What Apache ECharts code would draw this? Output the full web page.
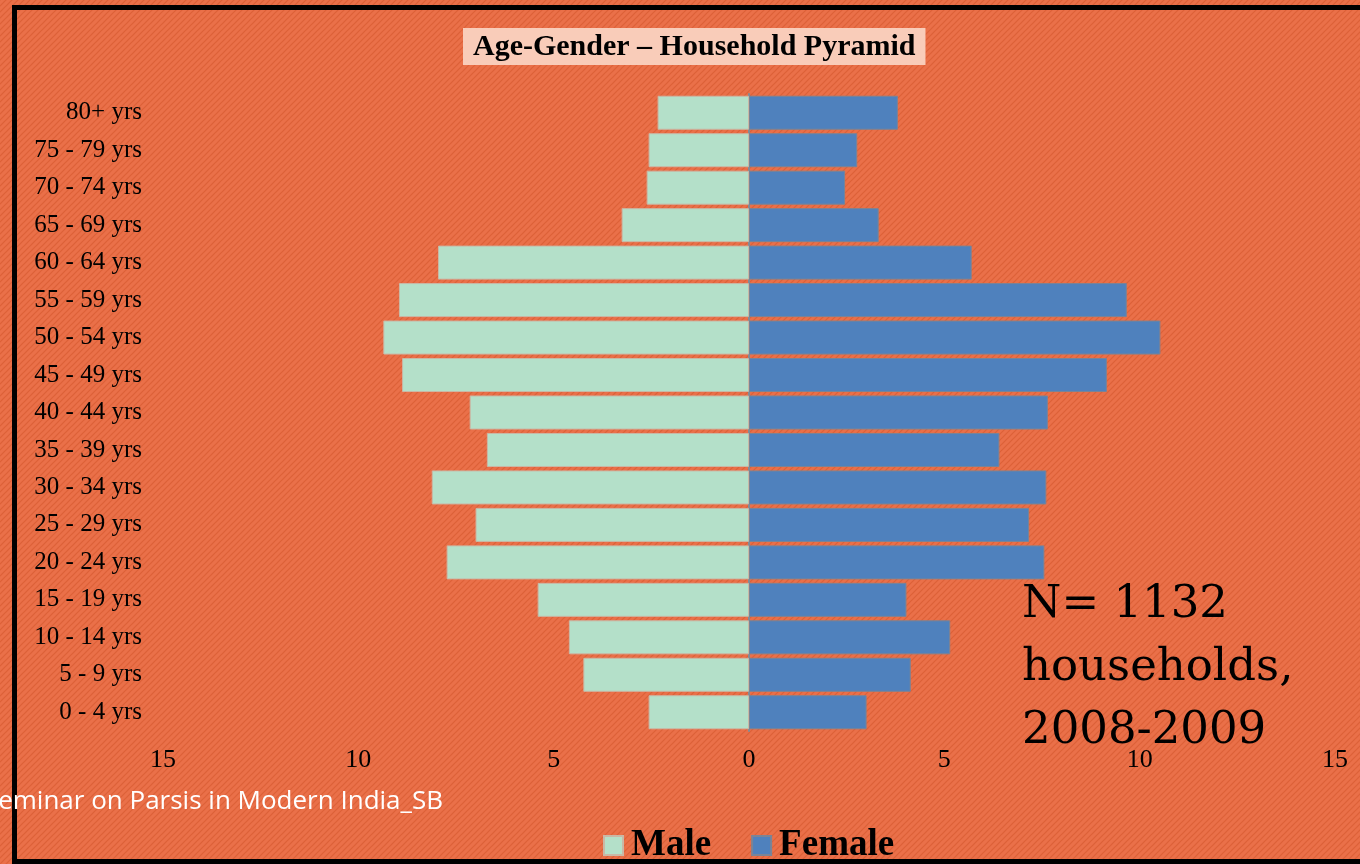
<!DOCTYPE html>
<html>
<head>
<meta charset="utf-8">
<title>Age-Gender Household Pyramid</title>
<script src="https://cdn.jsdelivr.net/npm/echarts@6/dist/echarts.min.js"></script>
<style>
html, body { margin: 0; padding: 0; background: #ea7049; }
#main { width: 1360px; height: 864px; }
</style>
</head>
<body>
<div id="main"></div>
<script>
// 年龄组（从下往上）
var ageGroups = ['0 - 4 yrs', '5 - 9 yrs', '10 - 14 yrs', '15 - 19 yrs', '20 - 24 yrs', '25 - 29 yrs',
	'30 - 34 yrs', '35 - 39 yrs', '40 - 44 yrs', '45 - 49 yrs', '50 - 54 yrs', '55 - 59 yrs',
	'60 - 64 yrs', '65 - 69 yrs', '70 - 74 yrs', '75 - 79 yrs', '80+ yrs'];
// 男性百分比
var maleValues = [2.57, 4.24, 4.61, 5.41, 7.74, 7.00, 8.12, 6.71, 7.15, 8.88, 9.36, 8.96, 7.96, 3.26, 2.62, 2.57, 2.34];
// 女性百分比
var femaleValues = [3.01, 4.14, 5.15, 4.03, 7.56, 7.17, 7.61, 6.41, 7.65, 9.16, 10.53, 9.67, 5.70, 3.32, 2.46, 2.77, 3.81];
// 横轴刻度
var xTicks = [-15, -10, -5, 0, 5, 10, 15];

// 背景斜纹
function makeStripes() {
	var c = document.createElement('canvas');
	c.width = 6;
	c.height = 6;
	var ctx = c.getContext('2d');
	ctx.fillStyle = '#ea7049';
	ctx.fillRect(0, 0, 6, 6);
	ctx.strokeStyle = '#dc6138';
	ctx.lineWidth = 1.2;
	ctx.beginPath();
	ctx.moveTo(-1, 7); ctx.lineTo(7, -1);
	ctx.moveTo(-4, 4); ctx.lineTo(4, -4);
	ctx.moveTo(2, 10); ctx.lineTo(10, 2);
	ctx.stroke();
	return c;
}

var maleNeg = [];
for (var i = 0; i < maleValues.length; i++) {
	maleNeg.push(-maleValues[i]);
}

var serif = '"Liberation Serif", "Times New Roman", serif';

var myChart = echarts.init(document.getElementById('main'));
var option = {
	backgroundColor: { image: makeStripes(), repeat: 'repeat' },
	animation: false,
	title: {
		text: 'Age-Gender \u2013 Household Pyramid',
		left: 463,
		top: 28,
		padding: [4, 10, 3, 10],
		backgroundColor: '#f9ccb9',
		textStyle: { fontFamily: serif, fontWeight: 'bold', fontSize: 30, color: '#000' }
	},
	legend: {
		data: ['Male', 'Female'],
		left: 598,
		top: 822,
		itemWidth: 19,
		itemHeight: 19,
		itemGap: 40,
		icon: 'rect',
		textStyle: { fontFamily: serif, fontWeight: 'bold', fontSize: 37, color: '#000', padding: [0, 0, 0, 3] }
	},
	grid: { left: 163, right: 25, top: 94, bottom: 133 },
	xAxis: {
		type: 'value',
		min: -15,
		max: 15,
		interval: 5,
		axisLine: { show: false },
		axisTick: { show: false },
		splitLine: { show: false },
		axisLabel: {
			margin: 16,
			fontFamily: serif,
			fontSize: 26,
			color: '#000',
			formatter: function (v) { return xTicks.indexOf(v) >= 0 ? Math.abs(v) : ''; }
		}
	},
	yAxis: {
		type: 'category',
		data: ageGroups,
		axisLine: { onZero: true, lineStyle: { color: '#858a94', width: 2 } },
		axisTick: { show: false },
		axisLabel: { margin: 21, fontFamily: serif, fontSize: 25, color: '#000' }
	},
	series: [
		{
			name: 'Male',
			type: 'bar',
			stack: 'pop',
			barWidth: 34,
			data: maleNeg,
			itemStyle: { color: '#b4e0c9', borderColor: '#c9b8a6', borderWidth: 1 }
		},
		{
			name: 'Female',
			type: 'bar',
			stack: 'pop',
			barWidth: 34,
			data: femaleValues,
			itemStyle: { color: '#4f81bd', borderColor: '#7a8496', borderWidth: 1 }
		}
	],
	graphic: [
		{
			type: 'rect',
			shape: { x: 14.5, y: 7.5, width: 1400, height: 854 },
			style: { fill: 'none', stroke: '#000', lineWidth: 5 },
			silent: true
		},
		{
			type: 'text',
			left: 1022,
			top: 574,
			style: {
				text: 'N= 1132\nhouseholds,\n2008-2009',
				font: '45px "DejaVu Serif", serif',
				lineHeight: 63,
				fill: '#000'
			}
		},
		{
			type: 'text',
			x: 443,
			y: 802,
			style: {
				text: 'Seminar on Parsis in Modern India_SB',
				font: '26px "Open Sans", "Liberation Sans", sans-serif',
				align: 'right',
				verticalAlign: 'middle',
				fill: '#fff'
			}
		}
	]
};

// 将配置应用到图表上
myChart.setOption(option);
</script>
</body>
</html>
